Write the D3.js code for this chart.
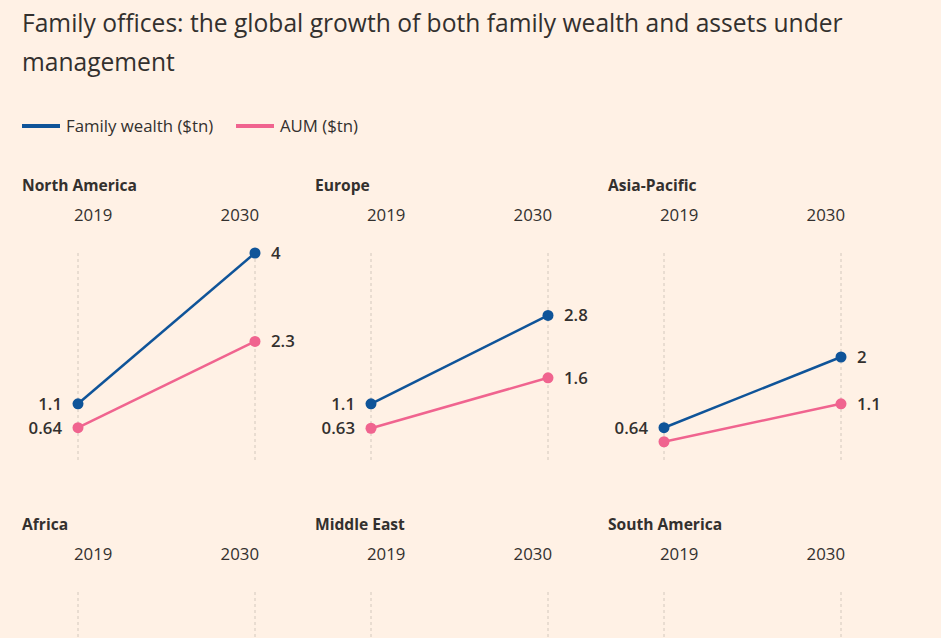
<!DOCTYPE html>
<html>
<head>
<meta charset="utf-8">
<script src="https://cdn.jsdelivr.net/npm/d3@7"></script>
<style>
  html, body { margin: 0; padding: 0; background: #fff1e5; overflow: hidden; }
  svg { display: block; font-family: "Open Sans", "Noto Sans", sans-serif; }
</style>
</head>
<body>
<svg id="chart" width="941" height="638"></svg>
<script>
// ---- data ----
const regions = ["North America", "Europe", "Asia-Pacific", "Africa", "Middle East", "South America"];
const years = ["2019", "2030"];
const familyWealth = [[1.1, 4], [1.1, 2.8], [0.64, 2], [0.1, 0.2], [0.2, 0.5], [0.1, 0.2]];
const aum = [[0.64, 2.3], [0.63, 1.6], [0.37, 1.1], [0.05, 0.1], [0.1, 0.3], [0.05, 0.1]];
const seriesNames = ["Family wealth ($tn)", "AUM ($tn)"];
// labels hidden where they would collide
const hideLabel = { "Asia-Pacific|1|0": true };

const colors = ["#0f5499", "#f0648f"];
const ink = "#33302e";
const W = 941, H = 638;

const svg = d3.select("#chart");

// title
const title = svg.append("text").attr("x", 22).attr("fill", ink)
  .style("font-size", "24.6px");
title.append("tspan").attr("x", 22).attr("y", 32)
  .text("Family offices: the global growth of both family wealth and assets under");
title.append("tspan").attr("x", 22).attr("y", 71).text("management");

// legend
const legendX = [22, 236];
seriesNames.forEach((name, i) => {
  const g = svg.append("g").attr("transform", `translate(${legendX[i]},126)`);
  g.append("line").attr("x1", 0).attr("x2", 38).attr("y1", 0).attr("y2", 0)
    .attr("stroke", colors[i]).attr("stroke-width", 4);
  g.append("text").attr("x", 44).attr("dy", "0.35em").attr("fill", ink)
    .style("font-size", "16.8px").text(name);
});

// panels
const colStart = [22, 315, 608];
const rowStart = [186, 525];
const plotOffset = 67;
const yScale = d3.scaleLinear().domain([0, 4]).range([208, 0]);

regions.forEach((region, ri) => {
  const col = ri % 3, row = Math.floor(ri / 3);
  const px = colStart[col], py = rowStart[row];
  const g = svg.append("g").attr("transform", `translate(${px},${py})`);
  const x = d3.scalePoint().domain(years).range([56, 233]);

  g.append("text").attr("x", 0).attr("y", 0).attr("dy", "0.35em")
    .attr("fill", ink).style("font-size", "15.6px").style("font-weight", 700)
    .text(region);

  // year labels
  years.forEach((yr, j) => {
    g.append("text")
      .attr("x", j === 0 ? x(yr) - 4 : x(yr) + 4)
      .attr("y", 29).attr("dy", "0.35em")
      .attr("text-anchor", j === 0 ? "start" : "end")
      .attr("fill", ink).style("font-size", "16.8px")
      .text(yr);
  });

  const plot = g.append("g").attr("transform", `translate(0,${plotOffset})`);
  years.forEach(yr => {
    plot.append("line").attr("x1", x(yr)).attr("x2", x(yr))
      .attr("y1", yScale(4)).attr("y2", yScale(0))
      .attr("stroke", "#d3c8bd").attr("stroke-width", 1)
      .attr("stroke-dasharray", "3,3");
  });

  const series = [familyWealth[ri], aum[ri]];
  const line = d3.line().x((d, j) => x(years[j])).y(d => yScale(d));
  // draw AUM first, then wealth on top
  [1, 0].forEach(si => {
    const vals = series[si];
    plot.append("path").datum(vals).attr("d", line)
      .attr("fill", "none").attr("stroke", colors[si]).attr("stroke-width", 2.5);
    plot.selectAll(null).data(vals).enter().append("circle")
      .attr("cx", (d, j) => x(years[j])).attr("cy", d => yScale(d))
      .attr("r", 5.5).attr("fill", colors[si]);
    vals.forEach((v, j) => {
      if (hideLabel[`${region}|${si}|${j}`]) return;
      // only place labels that fall inside the visible canvas
      if (py + plotOffset + yScale(v) > H - 10) return;
      plot.append("text")
        .attr("x", j === 0 ? x(years[j]) - 16 : x(years[j]) + 16)
        .attr("y", yScale(v)).attr("dy", "0.35em")
        .attr("text-anchor", j === 0 ? "end" : "start")
        .attr("fill", ink).style("font-size", "16.8px").style("font-weight", 600)
        .text(v);
    });
  });
});
</script>
</body>
</html>
